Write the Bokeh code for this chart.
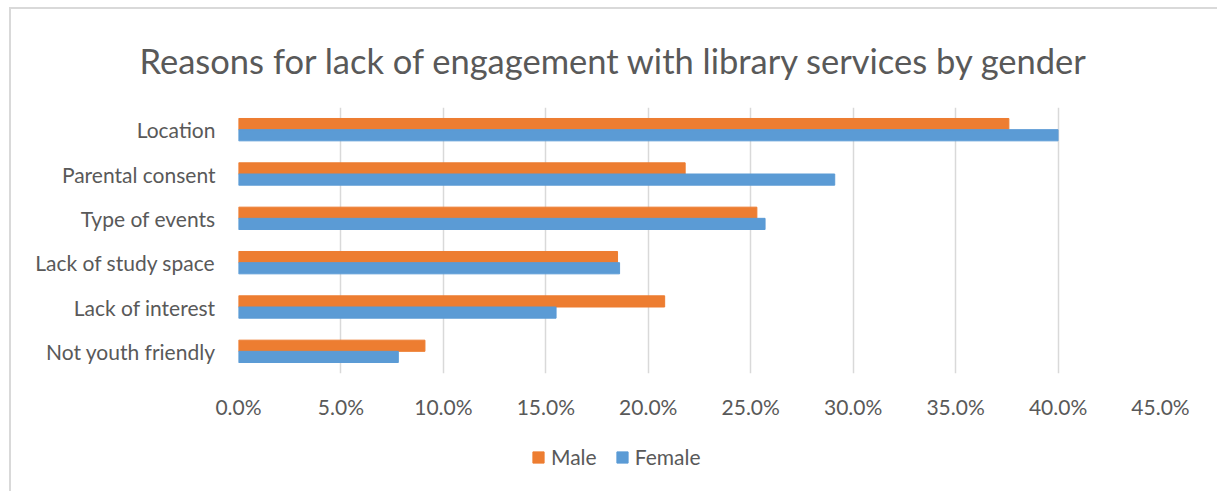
from bokeh.plotting import figure
from bokeh.layouts import column
from bokeh.models import (ColumnDataSource, FactorRange, Range1d, NumeralTickFormatter,
                          FixedTicker, Legend, LegendItem)
from bokeh.transform import dodge
from bokeh.embed import file_html
from bokeh.resources import INLINE

categories = ["Location", "Parental consent", "Type of events",
              "Lack of study space", "Lack of interest", "Not youth friendly"]
male = [0.376, 0.218, 0.253, 0.185, 0.208, 0.091]
female = [0.400, 0.291, 0.257, 0.186, 0.155, 0.078]
x_ticks = [0.0, 0.05, 0.10, 0.15, 0.20, 0.25, 0.30, 0.35, 0.40, 0.45]

MALE_C = "#ED7D31"
FEMALE_C = "#5B9BD5"
TXT = "#595959"
FONT = "Lato"

src = ColumnDataSource(dict(cat=categories, male=male, female=female))

# layout starts at (11, 9) because of the CSS margin + border on the column
p = figure(frame_width=922, frame_height=266, output_backend="svg", toolbar_location=None,
           y_range=FactorRange(*list(reversed(categories))),
           x_range=Range1d(0, 0.45),
           min_border_left=227, min_border_right=57, min_border_top=98,
           min_border_bottom=40)

r_m = p.hbar(y=dodge("cat", 0.126, range=p.y_range), right="male", left=0, height=0.252,
             source=src, color=MALE_C, line_color=MALE_C)
r_f = p.hbar(y=dodge("cat", -0.126, range=p.y_range), right="female", left=0, height=0.252,
             source=src, color=FEMALE_C, line_color=FEMALE_C)

p.title.text = "Reasons for lack of engagement with library services by gender"
p.title.align = "left"
p.title.offset = -99
p.title.text_font = FONT
p.title.text_font_size = "34.5px"
p.title.text_font_style = "normal"
p.title.text_color = TXT
p.title.standoff = 54

p.outline_line_color = None
p.ygrid.grid_line_color = None
p.xgrid.grid_line_color = "#D9D9D9"
p.xgrid.grid_line_width = 1.5
p.xaxis.ticker = FixedTicker(ticks=x_ticks)
p.xaxis.formatter = NumeralTickFormatter(format="0.0%")

for ax in (p.xaxis[0], p.yaxis[0]):
    ax.axis_line_color = None
    ax.major_tick_line_color = None
    ax.minor_tick_line_color = None
    ax.major_label_text_font = FONT
    ax.major_label_text_font_size = "21px"
    ax.major_label_text_color = TXT
p.yaxis.major_label_standoff = 17
p.xaxis.major_label_standoff = 14

# legend strip below the chart (same series, drawn outside its visible range)
leg = figure(frame_width=1206, frame_height=78, output_backend="svg", toolbar_location=None,
             x_axis_location=None, y_axis_location=None,
             y_range=FactorRange(*list(reversed(categories))), x_range=Range1d(-11, -10),
             min_border=0)
leg.outline_line_color = None
leg.grid.grid_line_color = None
l_m = leg.hbar(y="cat", right="male", left=0, height=0.25, source=src,
               color=MALE_C, line_color=MALE_C)
l_f = leg.hbar(y="cat", right="female", left=0, height=0.25, source=src,
               color=FEMALE_C, line_color=FEMALE_C)

legend = Legend(items=[LegendItem(label="Male", renderers=[l_m]),
                       LegendItem(label="Female", renderers=[l_f])],
                orientation="horizontal", location=(520, 30),
                label_text_font=FONT, label_text_font_size="21px", label_text_color=TXT,
                glyph_width=14, glyph_height=14, spacing=18, label_standoff=6,
                border_line_color=None, background_fill_alpha=0, margin=0, padding=0)
leg.add_layout(legend)

layout = column(p, leg, spacing=0,
                styles={"margin-left": "9px", "margin-top": "7px",
                        "border-left": "2px solid #D9D9D9",
                        "border-top": "2px solid #D9D9D9"})

open("out.html", "w").write(file_html(layout, INLINE))
